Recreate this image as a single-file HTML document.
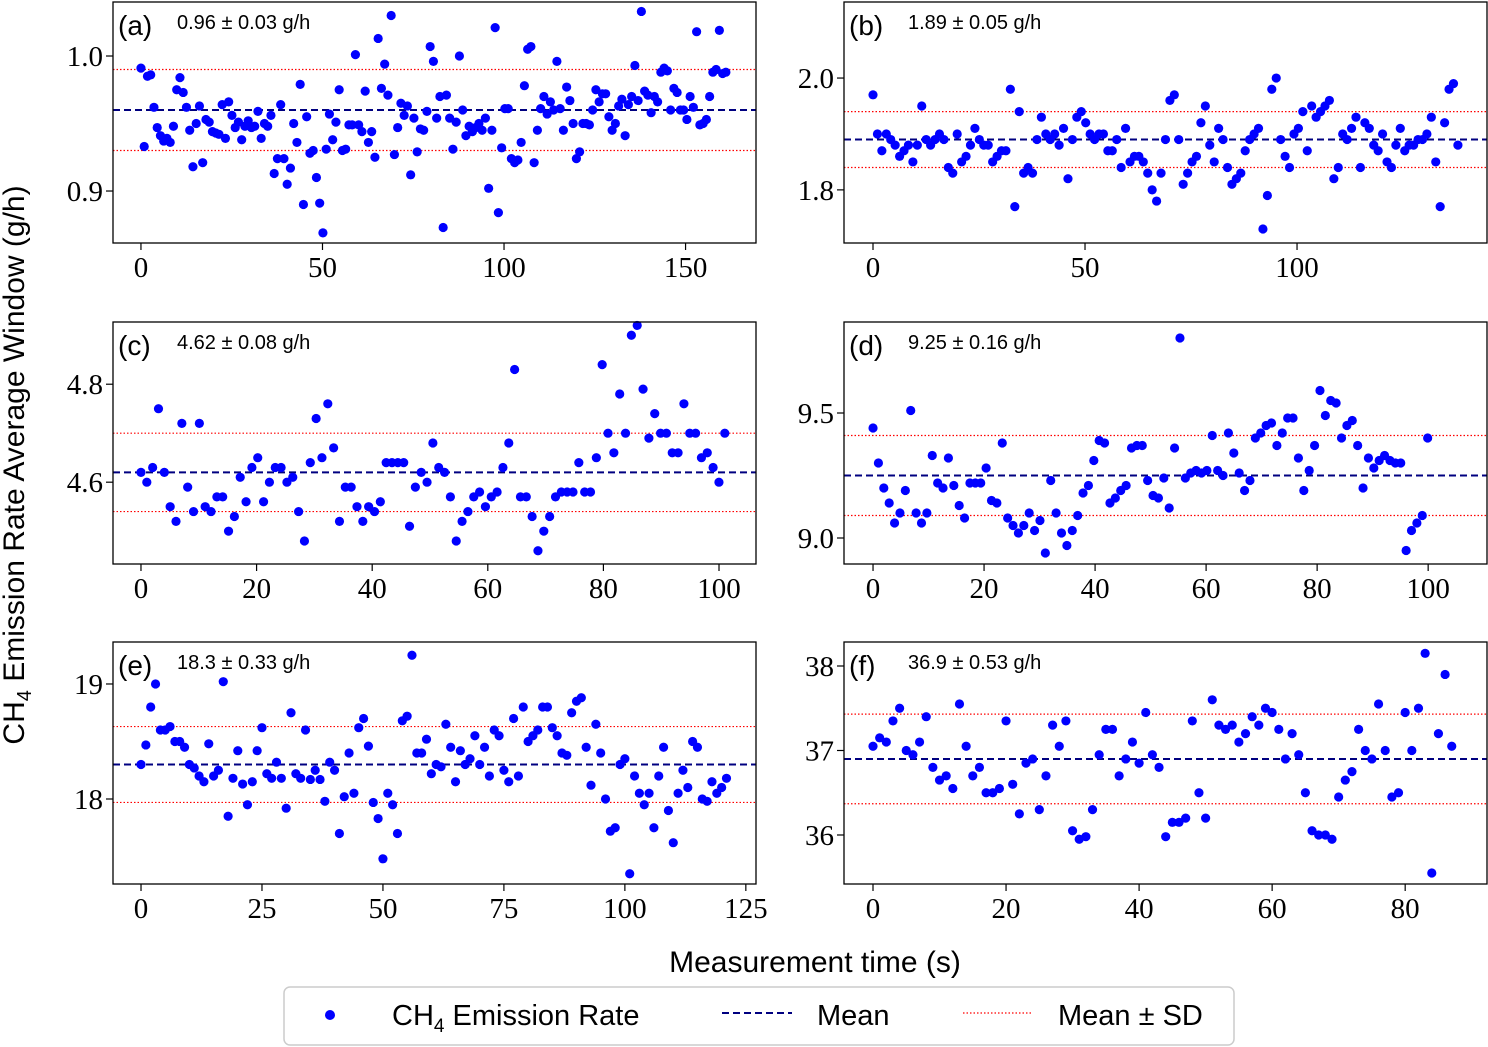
<!DOCTYPE html>
<html><head><meta charset="utf-8">
<style>
body{margin:0;background:#fff;width:1488px;height:1047px;overflow:hidden;font-family:"Liberation Sans",sans-serif;}
svg{display:block}
</style></head>
<body>
<svg id="chart" width="1488" height="1047" viewBox="0 0 1488 1047" xmlns="http://www.w3.org/2000/svg">
<text transform="translate(24,465) rotate(-90)" text-anchor="middle" font-size="30" font-family="Liberation Sans, sans-serif">CH<tspan font-size="20" dy="7">4</tspan><tspan dy="-7"> Emission Rate Average Window (g/h)</tspan></text>
<text x="815" y="972" text-anchor="middle" font-size="30" font-family="Liberation Sans, sans-serif">Measurement time (s)</text>
<g>
<rect x="284" y="987" width="950" height="58" rx="6" fill="#fff" stroke="#ccc" stroke-width="1.5"/>
<circle cx="330" cy="1015" r="5" fill="#0000ff"/>
<text x="392" y="1025" font-size="29">CH<tspan font-size="19" dy="7">4</tspan><tspan dy="-7"> Emission Rate</tspan></text>
<line x1="722" y1="1013" x2="792" y2="1013" stroke="#000080" stroke-width="2" stroke-dasharray="7,4"/>
<text x="817" y="1025" font-size="29">Mean</text>
<line x1="963" y1="1013" x2="1033" y2="1013" stroke="#ff0000" stroke-width="1.2" stroke-dasharray="1.5,2"/>
<text x="1058" y="1025" font-size="29">Mean ± SD</text>
</g>
</svg>
<script>
const labels = ["(a)","(b)","(c)","(d)","(e)","(f)"];
const annotations = ["0.96 ± 0.03 g/h","1.89 ± 0.05 g/h","4.62 ± 0.08 g/h","9.25 ± 0.16 g/h","18.3 ± 0.33 g/h","36.9 ± 0.53 g/h"];
const means = [0.96,1.89,4.62,9.25,18.3,36.9];
const sds = [0.03,0.05,0.08,0.16,0.33,0.53];
const timeSteps = [0.895,1.045,1.01,0.97,1.0,1.0];
const xTicks = [[0,50,100,150],[0,50,100],[0,20,40,60,80,100],[0,20,40,60,80,100],[0,25,50,75,100,125],[0,20,40,60,80]];
const yTicks = [[0.9,1.0],[1.8,2.0],[4.6,4.8],[9.0,9.5],[18,19],[36,37,38]];
const yTickLabels = [["0.9","1.0"],["1.8","2.0"],["4.6","4.8"],["9.0","9.5"],["18","19"],["36","37","38"]];
const xDomains = [[-7.7,169.4],[-6.84,144.8],[-4.84,106.4],[-5.23,110.6],[-5.79,127.1],[-4.36,92.3]];
const yDomains = [[0.8615,1.040],[1.705,2.136],[4.433,4.927],[8.896,9.864],[17.261,19.365],[35.42,38.284]];

const seriesA = [0.991,0.933,0.985,0.986,0.962,0.947,0.941,0.937,0.939,0.936,0.948,0.975,0.984,0.973,0.962,0.945,0.918,0.950,0.963,0.921,0.953,0.951,0.944,0.943,0.942,0.964,0.939,0.966,0.956,0.947,0.951,0.938,0.948,0.952,0.947,0.948,0.959,0.939,0.950,0.948,0.956,0.913,0.924,0.964,0.924,0.905,0.917,0.950,0.936,0.979,0.890,0.955,0.928,0.930,0.910,0.891,0.869,0.931,0.957,0.938,0.951,0.975,0.930,0.931,0.949,0.949,1.001,0.949,0.944,0.974,0.936,0.944,0.925,1.013,0.976,0.994,0.971,1.030,0.927,0.947,0.965,0.956,0.963,0.912,0.954,0.929,0.946,0.945,0.959,1.007,0.996,0.954,0.970,0.873,0.971,0.954,0.931,0.951,1.000,0.960,0.941,0.948,0.944,0.947,0.950,0.945,0.954,0.902,0.945,1.021,0.884,0.932,0.961,0.961,0.924,0.921,0.923,0.936,0.978,1.005,1.007,0.921,0.945,0.961,0.970,0.957,0.966,0.960,0.996,0.961,0.945,0.977,0.967,0.950,0.924,0.929,0.950,0.950,0.949,0.960,0.975,0.966,0.972,0.972,0.955,0.945,0.950,0.963,0.968,0.941,0.964,0.970,0.993,0.967,1.033,0.974,0.971,0.958,0.970,0.966,0.988,0.991,0.989,0.960,0.976,0.973,0.960,0.960,0.953,0.970,0.962,1.018,0.949,0.950,0.953,0.970,0.988,0.990,1.019,0.987,0.988];
const seriesB = [1.97,1.90,1.87,1.90,1.89,1.88,1.86,1.87,1.88,1.85,1.88,1.95,1.89,1.88,1.89,1.90,1.89,1.84,1.83,1.90,1.85,1.86,1.88,1.91,1.89,1.88,1.88,1.85,1.86,1.87,1.87,1.98,1.77,1.94,1.83,1.84,1.83,1.89,1.93,1.90,1.89,1.90,1.88,1.91,1.82,1.89,1.93,1.94,1.92,1.90,1.89,1.90,1.90,1.87,1.87,1.89,1.84,1.91,1.85,1.86,1.86,1.85,1.83,1.80,1.78,1.83,1.89,1.96,1.97,1.89,1.81,1.83,1.85,1.86,1.92,1.95,1.88,1.85,1.91,1.89,1.84,1.81,1.82,1.83,1.87,1.89,1.90,1.91,1.73,1.79,1.98,2.00,1.89,1.86,1.84,1.90,1.91,1.94,1.87,1.95,1.93,1.94,1.95,1.96,1.82,1.84,1.90,1.89,1.91,1.93,1.84,1.92,1.91,1.88,1.87,1.90,1.85,1.84,1.88,1.91,1.87,1.88,1.88,1.89,1.89,1.90,1.93,1.85,1.77,1.92,1.98,1.99,1.88];
const seriesC = [4.62,4.60,4.63,4.75,4.62,4.55,4.52,4.72,4.59,4.54,4.72,4.55,4.54,4.57,4.57,4.50,4.53,4.61,4.56,4.63,4.65,4.56,4.60,4.63,4.63,4.60,4.61,4.54,4.48,4.64,4.73,4.65,4.76,4.67,4.52,4.59,4.59,4.55,4.52,4.55,4.54,4.56,4.64,4.64,4.64,4.64,4.51,4.59,4.62,4.60,4.68,4.63,4.62,4.57,4.48,4.52,4.54,4.57,4.58,4.55,4.57,4.58,4.63,4.68,4.83,4.57,4.57,4.53,4.46,4.50,4.53,4.57,4.58,4.58,4.58,4.64,4.58,4.58,4.65,4.84,4.70,4.66,4.78,4.70,4.90,4.92,4.79,4.69,4.74,4.70,4.70,4.66,4.66,4.76,4.70,4.70,4.65,4.66,4.63,4.60,4.70];
const seriesD = [9.44,9.30,9.20,9.14,9.06,9.10,9.19,9.51,9.10,9.06,9.10,9.33,9.22,9.20,9.32,9.21,9.13,9.08,9.22,9.22,9.22,9.28,9.15,9.14,9.38,9.08,9.05,9.02,9.05,9.10,9.03,9.07,8.94,9.23,9.10,9.02,8.97,9.03,9.09,9.18,9.21,9.31,9.39,9.38,9.14,9.16,9.19,9.21,9.36,9.37,9.37,9.23,9.17,9.16,9.24,9.12,9.36,9.80,9.24,9.26,9.27,9.26,9.27,9.41,9.27,9.25,9.42,9.34,9.26,9.19,9.23,9.40,9.42,9.45,9.46,9.37,9.42,9.48,9.48,9.32,9.19,9.27,9.37,9.59,9.49,9.55,9.54,9.40,9.45,9.47,9.37,9.20,9.32,9.28,9.31,9.33,9.31,9.30,9.30,8.95,9.03,9.06,9.09,9.40];
const seriesE = [18.3,18.47,18.8,19.0,18.6,18.6,18.63,18.5,18.5,18.45,18.3,18.27,18.2,18.15,18.48,18.2,18.25,19.02,17.85,18.18,18.42,18.13,17.95,18.15,18.42,18.62,18.22,18.18,18.32,18.18,17.92,18.75,18.22,18.18,18.6,18.17,18.25,18.17,17.98,18.32,18.25,17.7,18.02,18.4,18.05,18.62,18.7,18.46,17.97,17.83,17.48,18.05,17.95,17.7,18.68,18.72,19.25,18.4,18.4,18.52,18.22,18.3,18.28,18.65,18.45,18.15,18.42,18.3,18.35,18.55,18.3,18.45,18.2,18.6,18.55,18.25,18.15,18.7,18.2,18.8,18.5,18.55,18.6,18.8,18.8,18.62,18.55,18.4,18.38,18.75,18.85,18.88,18.45,18.12,18.65,18.4,18.0,17.72,17.75,18.3,18.35,17.35,18.2,18.05,17.95,18.05,17.75,18.2,18.45,17.9,17.62,18.05,18.25,18.1,18.5,18.45,18.0,17.98,18.15,18.05,18.1,18.18];
const seriesF = [37.05,37.15,37.1,37.35,37.5,37.0,36.95,37.1,37.4,36.8,36.65,36.7,36.55,37.55,37.05,36.7,36.8,36.5,36.5,36.55,37.35,36.6,36.25,36.85,36.9,36.3,36.7,37.3,37.05,37.35,36.05,35.95,35.98,36.3,36.95,37.25,37.25,36.7,36.9,37.1,36.85,37.45,36.95,36.8,35.98,36.15,36.15,36.2,37.35,36.5,36.2,37.6,37.3,37.25,37.3,37.1,37.2,37.4,37.3,37.5,37.45,37.25,36.9,37.2,36.95,36.5,36.05,36.0,36.0,35.95,36.45,36.65,36.75,37.25,37.0,36.9,37.55,37.0,36.45,36.5,37.45,37.0,37.5,38.15,35.55,37.2,37.9,37.05];
const allSeries = [seriesA,seriesB,seriesC,seriesD,seriesE,seriesF];

const NS = "http://www.w3.org/2000/svg";
const svg = document.getElementById("chart");
const boxes = [[113,2,756,243],[844,2,1487,243],[113,322,756,564],[844,322,1487,564],[113,642,756,884],[844,642,1487,884]];
const letters = "abcdef";
function mk(tag, attrs, parent){const e=document.createElementNS(NS,tag);for(const k in attrs)e.setAttribute(k,attrs[k]);(parent||svg).appendChild(e);return e;}

for(let p=0;p<6;p++){
  const [L,T,R,B]=boxes[p];
  const xd=xDomains[p], yd=yDomains[p];
  const sx=v=>L+(v-xd[0])/(xd[1]-xd[0])*(R-L);
  const sy=v=>B-(v-yd[0])/(yd[1]-yd[0])*(B-T);
  const g=mk("g",{});
  
  
  const m=means[p], s=sds[p];
  [[m+s,'sd-upper-line'],[m-s,'sd-lower-line']].forEach(([v,n])=>{
    const l=mk("line",{x1:L,x2:R,y1:sy(v),y2:sy(v),stroke:"#ff0000","stroke-width":1.2,"stroke-dasharray":"1.5,2"},g);
    
    
  });
  const ml=mk("line",{x1:L,x2:R,y1:sy(m),y2:sy(m),stroke:"#000080","stroke-width":2,"stroke-dasharray":"7,4"},g);
  
  
  const data=allSeries[p];
  data.forEach((v,i)=>{
    const c=mk("circle",{cx:sx(i*timeSteps[p]),cy:sy(v),r:4.6,fill:"#0000ff"},g);
    
    
  });
  const fr=mk("rect",{x:L,y:T,width:R-L,height:B-T,fill:"none",stroke:"#000","stroke-width":1.3},g);
  
  
  xTicks[p].forEach(t=>{
    const x=sx(t);
    mk("line",{x1:x,x2:x,y1:B,y2:B+7,stroke:"#000","stroke-width":1.2},g);
    const tx=mk("text",{x:x,y:B+34,"text-anchor":"middle","font-size":29,"font-family":"Liberation Serif, serif"},g);
    tx.textContent=t;
    
    
  });
  yTicks[p].forEach((t,i)=>{
    const y=sy(t);
    mk("line",{x1:L-7,x2:L,y1:y,y2:y,stroke:"#000","stroke-width":1.2},g);
    const ty=mk("text",{x:L-10,y:y+10,"text-anchor":"end","font-size":29,"font-family":"Liberation Serif, serif"},g);
    ty.textContent=yTickLabels[p][i];
    
    
  });
  const lb=mk("text",{x:L+5,y:T+33,"font-size":28,"font-family":"Liberation Sans, sans-serif"},g);
  lb.textContent=labels[p];
  
  
  const an=mk("text",{x:L+64,y:T+27,"font-size":20,"font-family":"Liberation Sans, sans-serif"},g);
  an.textContent=annotations[p];
  
  
}
</script>
</body></html>
